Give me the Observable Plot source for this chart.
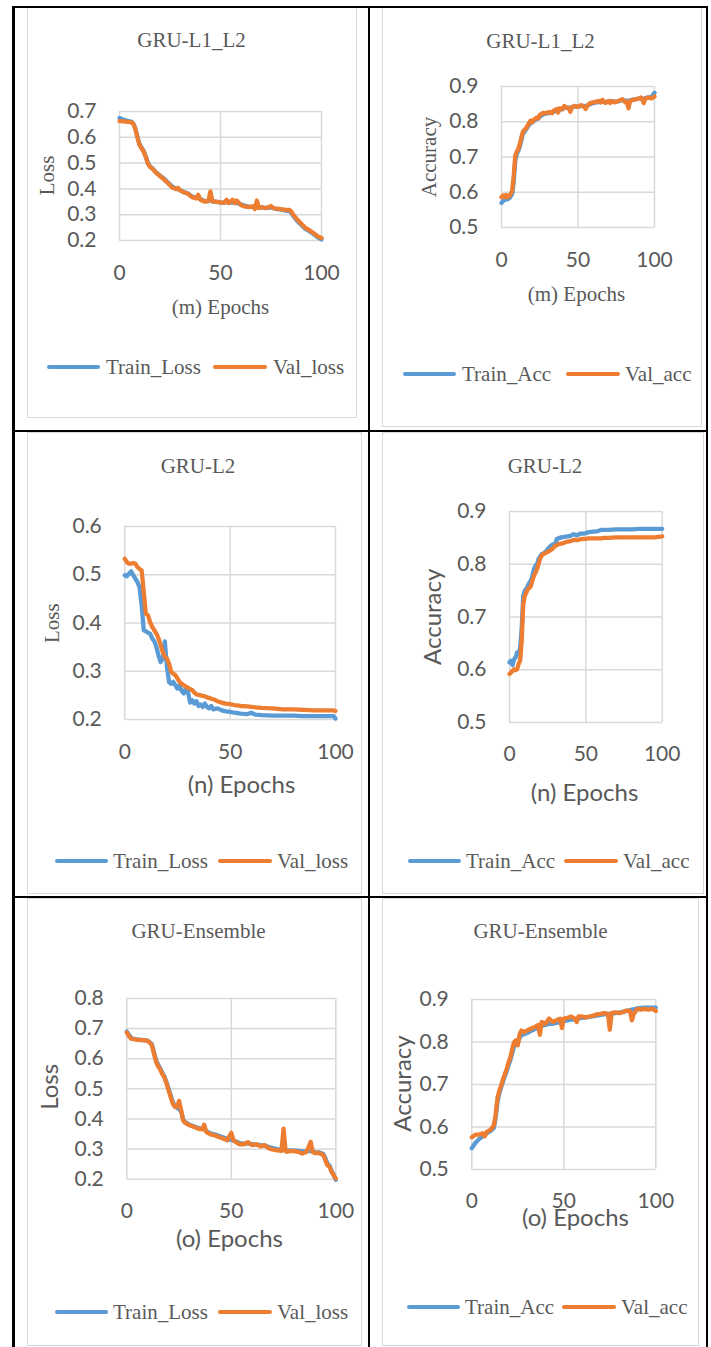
<!DOCTYPE html>
<html><head><meta charset="utf-8">
<script src="https://cdn.jsdelivr.net/npm/d3@7"></script>
<script src="https://cdn.jsdelivr.net/npm/@observablehq/plot@0.6"></script>
<style>
body{margin:0;background:#fff;}
#page{position:relative;width:711px;height:1347px;overflow:hidden;background:#fff;}
.bl{position:absolute;background:#000;}
.fr{position:absolute;border:1px solid #d9d9d9;box-sizing:border-box;}
.ttl{position:absolute;font-family:"Liberation Serif","Times New Roman",serif;color:#595959;font-size:21px;line-height:24px;white-space:nowrap;transform:translate(-50%,-50%);}
.lg{position:absolute;height:4px;border-radius:2px;}
.lt{position:absolute;font-family:"Liberation Serif","Times New Roman",serif;color:#595959;font-size:21px;line-height:24px;white-space:nowrap;transform:translateY(-50%);}
</style></head><body><div id="page"></div>
<script>
// ---------- DATA ----------
const xTicks = [0, 50, 100];
const lossTicksA = [0.2, 0.3, 0.4, 0.5, 0.6, 0.7];
const lossTicksB = [0.2, 0.3, 0.4, 0.5, 0.6];
const lossTicksC = [0.2, 0.3, 0.4, 0.5, 0.6, 0.7, 0.8];
const accTicks = [0.5, 0.6, 0.7, 0.8, 0.9];
const lossNames = ["Train_Loss", "Val_loss"];
const accNames = ["Train_Acc", "Val_acc"];

// (m) GRU-L1_L2 loss
const l1l2LossEpochs = [0,2,4,6,7,8,9,10,12,13,14,15,16,17,18,20,22,24,26,28,29,30,32,34,35,36,38,39,40,42,44,45,46,48,50,52,53,54,56,57,58,60,62,64,66,67,68,69,70,72,74,75,76,78,80,82,84,85,86,88,90,92,94,96,98,100];
const l1l2TrainLoss = [0.675,0.668,0.664,0.660,0.652,0.630,0.598,0.572,0.546,0.526,0.502,0.488,0.482,0.474,0.465,0.452,0.440,0.425,0.410,0.400,0.399,0.395,0.388,0.382,0.376,0.370,0.366,0.368,0.360,0.354,0.352,0.358,0.352,0.350,0.348,0.347,0.350,0.346,0.348,0.345,0.346,0.340,0.335,0.331,0.330,0.326,0.332,0.327,0.328,0.326,0.327,0.328,0.325,0.322,0.320,0.316,0.314,0.308,0.295,0.276,0.260,0.245,0.236,0.225,0.213,0.204];
const l1l2ValLoss = [0.663,0.662,0.660,0.658,0.650,0.627,0.595,0.569,0.544,0.524,0.499,0.486,0.480,0.473,0.463,0.450,0.437,0.422,0.406,0.399,0.404,0.394,0.386,0.381,0.373,0.368,0.363,0.377,0.358,0.351,0.354,0.390,0.351,0.351,0.347,0.347,0.358,0.345,0.358,0.345,0.355,0.338,0.332,0.329,0.332,0.322,0.355,0.326,0.329,0.326,0.329,0.334,0.326,0.323,0.322,0.319,0.319,0.313,0.300,0.281,0.265,0.249,0.240,0.229,0.217,0.210];

// (m) GRU-L1_L2 accuracy
const l1l2AccEpochs = [0,1,2,3,4,5,6,7,8,9,10,11,12,13,14,15,16,17,18,19,20,21,22,23,24,25,26,27,28,30,32,33,34,36,37,38,40,41,42,44,45,46,48,50,52,54,55,56,58,60,62,64,65,66,68,70,71,72,74,76,78,79,80,81,82,83,84,86,88,90,91,92,93,94,96,98,100];
const l1l2TrainAcc = [0.570,0.575,0.578,0.580,0.580,0.583,0.588,0.596,0.630,0.690,0.708,0.718,0.730,0.748,0.765,0.772,0.778,0.785,0.791,0.797,0.798,0.802,0.805,0.808,0.809,0.814,0.818,0.820,0.822,
  0.824,0.826,0.826,0.828,0.832,0.830,0.834,0.836,0.840,0.840,0.840,0.838,0.842,0.843,0.843,
  0.845,0.845,0.843,0.846,0.850,0.853,0.855,0.856,0.856,0.858,0.856,0.858,
  0.857,0.858,0.857,0.858,0.860,0.862,0.861,0.860,0.860,0.858,0.861,
  0.863,0.864,0.866,0.867,0.866,0.864,0.867,0.869,0.870,0.882];
const l1l2ValAcc = [0.586,0.591,0.586,0.592,0.586,0.589,0.595,0.605,0.647,0.704,0.715,0.723,0.737,0.756,0.772,0.777,0.781,0.789,0.796,0.803,0.798,0.806,0.808,0.812,0.809,0.819,0.822,0.825,0.824,
  0.826,0.828,0.824,0.831,0.836,0.826,0.838,0.836,0.845,0.841,0.838,0.828,0.841,0.845,0.842,
  0.847,0.842,0.836,0.845,0.853,0.855,0.857,0.859,0.855,0.862,0.853,0.859,
  0.853,0.859,0.855,0.858,0.862,0.864,0.859,0.855,0.857,0.838,0.859,
  0.862,0.864,0.866,0.869,0.862,0.853,0.866,0.869,0.866,0.872];

// (n) GRU-L2 loss
const l2LossEpochs = [0,1,2,3,4,5,6,7,8,9,10,11,12,13,14,15,16,17,18,19,20,21,22,23,24,25,26,27,28,29,30,31,32,33,34,35,36,37,38,39,40,41,42,44,46,48,50,52,55,58,60,62,65,70,75,80,85,90,95,99,100];
const l2TrainLoss = [0.499,0.497,0.502,0.507,0.499,0.492,0.485,0.474,0.437,0.385,0.383,0.380,0.378,0.368,0.362,0.350,0.333,0.319,0.326,0.362,0.309,0.278,0.274,0.278,0.271,0.264,0.271,0.259,0.254,0.264,0.257,0.235,0.240,0.233,0.238,0.228,0.231,0.226,0.233,0.226,0.223,0.228,0.221,0.223,0.219,0.217,0.216,0.214,0.212,0.211,0.214,0.210,0.209,0.208,0.208,0.208,0.207,0.207,0.207,0.207,0.202];
const l2ValLoss = [0.533,0.526,0.523,0.523,0.524,0.523,0.516,0.512,0.509,0.464,0.419,0.416,0.402,0.392,0.385,0.378,0.368,0.354,0.340,0.330,0.326,0.316,0.299,0.295,0.292,0.285,0.278,0.274,0.271,0.268,0.266,0.263,0.261,0.256,0.252,0.251,0.250,0.249,0.248,0.246,0.245,0.243,0.242,0.238,0.235,0.233,0.232,0.230,0.228,0.227,0.226,0.225,0.224,0.223,0.221,0.221,0.220,0.219,0.219,0.219,0.218];

// (n) GRU-L2 accuracy
const l2AccEpochs = [0,1,2,3,4,5,6,7,8,9,10,11,12,13,14,15,16,17,18,19,20,21,22,24,26,28,30,31,32,34,36,38,40,42,44,45,46,48,50,52,55,58,60,62,65,70,75,80,85,90,95,100];
const l2TrainAcc = [0.614,0.617,0.609,0.620,0.623,0.633,0.630,0.642,0.680,0.740,0.750,0.753,0.759,0.765,0.769,0.778,0.791,0.797,0.800,0.810,0.814,0.819,0.820,0.825,0.832,0.837,0.838,0.848,0.849,0.851,0.852,0.853,0.854,0.857,0.855,0.856,0.858,0.858,0.859,0.861,0.862,0.863,0.865,0.865,0.865,0.866,0.866,0.866,0.867,0.867,0.867,0.867];
const l2ValAcc = [0.592,0.595,0.598,0.601,0.599,0.601,0.611,0.618,0.655,0.724,0.740,0.746,0.753,0.755,0.759,0.769,0.778,0.784,0.791,0.800,0.810,0.816,0.819,0.822,0.825,0.829,0.835,0.836,0.838,0.839,0.841,0.843,0.844,0.846,0.846,0.846,0.847,0.848,0.848,0.849,0.849,0.849,0.849,0.850,0.850,0.851,0.851,0.851,0.851,0.851,0.851,0.853];

// (o) GRU-Ensemble loss
const ensLossEpochs = [0,1,2,4,6,8,10,11,12,13,14,15,16,17,18,19,20,21,22,23,24,25,26,27,28,29,30,32,34,36,37,38,40,42,44,46,48,50,51,52,54,56,58,60,62,64,66,68,70,72,74,75,76,77,78,80,82,84,86,88,89,90,92,94,95,96,97,98,100];
const ensTrainLoss = [0.690,0.680,0.670,0.665,0.663,0.662,0.660,
  0.655,0.648,0.622,0.595,0.580,0.568,0.553,0.541,0.522,0.500,0.478,0.456,0.443,0.437,0.432,0.425,0.398,0.390,0.385,0.381,
  0.376,0.371,0.367,0.368,0.360,0.352,0.349,0.344,0.339,0.334,0.330,
  0.329,0.326,0.320,0.318,0.319,0.316,0.315,0.313,0.312,0.307,0.303,
  0.300,0.298,0.298,0.297,0.296,0.296,0.295,0.294,0.292,0.292,0.294,
  0.292,0.290,0.289,0.284,0.270,0.252,0.245,0.228,0.198];
const ensValLoss = [0.687,0.675,0.667,0.664,0.662,0.662,0.659,
  0.653,0.645,0.617,0.590,0.575,0.564,0.549,0.538,0.518,0.495,0.473,0.451,0.440,0.440,0.460,0.429,0.394,0.387,0.383,0.379,
  0.374,0.368,0.365,0.381,0.357,0.349,0.346,0.340,0.335,0.329,0.354,
  0.330,0.324,0.316,0.316,0.323,0.313,0.316,0.309,0.313,0.302,0.298,
  0.296,0.294,0.368,0.292,0.291,0.294,0.293,0.291,0.285,0.291,0.324,
  0.290,0.287,0.287,0.280,0.263,0.246,0.241,0.224,0.202];

// (o) GRU-Ensemble accuracy
const ensAccEpochs = [0,2,4,6,7,8,10,11,12,13,14,15,16,17,18,19,20,21,22,23,24,25,26,27,28,30,32,34,36,37,38,40,42,44,46,48,49,50,52,54,56,57,58,60,62,64,66,68,70,72,74,75,76,78,80,82,84,86,87,88,90,92,94,96,98,100];
const ensTrainAcc = [0.550,0.563,0.572,0.578,0.580,0.585,0.590,
  0.594,0.598,0.622,0.660,0.680,0.694,0.708,0.720,0.732,0.746,0.758,0.775,0.790,0.795,0.798,0.810,0.816,0.818,
  0.821,0.826,0.830,0.833,0.835,0.838,0.840,
  0.843,0.843,0.845,0.847,0.848,0.849,
  0.851,0.853,0.853,0.854,0.855,0.857,
  0.858,0.859,0.861,0.862,0.864,0.865,0.866,
  0.866,0.867,0.868,0.869,0.871,0.873,0.875,
  0.876,0.877,0.879,0.880,0.881,0.881,0.881,0.881];
const ensValAcc = [0.576,0.582,0.582,0.585,0.578,0.588,0.593,
  0.598,0.604,0.631,0.670,0.686,0.698,0.713,0.725,0.737,0.753,0.764,0.784,0.800,0.804,0.792,0.819,0.827,0.823,
  0.827,0.831,0.835,0.840,0.817,0.847,0.843,
  0.855,0.847,0.851,0.855,0.833,0.855,
  0.857,0.860,0.855,0.847,0.860,0.860,
  0.858,0.860,0.862,0.865,0.866,0.868,0.866,
  0.829,0.868,0.870,0.868,0.870,0.874,0.873,
  0.851,0.866,0.878,0.876,0.878,0.876,0.878,0.873];

// ---------- LAYOUT / STYLE ----------
const BLUE = "#5B9BD5", ORANGE = "#ED7D31", GRID = "#d9d9d9", TXT = "#595959";
const SERIF = "Liberation Serif", SANS = "Lato";
const page = document.getElementById("page");
function el(cls, css, text) {
  const d = document.createElement("div");
  d.className = cls;
  for (const k in css) d.style[k] = typeof css[k] === "number" ? css[k] + "px" : css[k];
  if (text != null) d.textContent = text;
  page.appendChild(d);
  return d;
}

const panels = [
  {title: "GRU-L1_L2", t: [191.5, 40], frame: [27, 7, 357, 418], plot: [119, 111, 321, 240], yDomain: [0.2, 0.7], yTicks: lossTicksA, xPad: 24.5,
   xl: {text: "(m) Epochs", x: 220, y: 307, font: SERIF, size: 21}, yl: {text: "Loss", x: 46.7, y: 175, font: SERIF, size: 21},
   epochs: l1l2LossEpochs, train: l1l2TrainLoss, val: l1l2ValLoss, names: lossNames, lg: {y: 367, l1: 47, t1: 106, l2: 213, t2: 273}},
  {title: "GRU-L1_L2", t: [540.5, 40.7], frame: [382, 7, 702, 427], plot: [501, 85.5, 654, 226.5], yDomain: [0.5, 0.9], yTicks: accTicks, xPad: 24.5,
   xl: {text: "(m) Epochs", x: 576, y: 293.3, font: SERIF, size: 21}, yl: {text: "Accuracy", x: 429, y: 156, font: SERIF, size: 21},
   epochs: l1l2AccEpochs, train: l1l2TrainAcc, val: l1l2ValAcc, names: accNames, lg: {y: 374, l1: 403, t1: 462, l2: 566, t2: 625}},
  {title: "GRU-L2", t: [198, 466], frame: [27, 432, 362, 894], plot: [124.3, 526, 335, 719], yDomain: [0.2, 0.6], yTicks: lossTicksB, xPad: 25,
   xl: {text: "(n) Epochs", x: 241, y: 785, font: SANS, size: 24}, yl: {text: "Loss", x: 51.7, y: 622.7, font: SERIF, size: 21},
   epochs: l2LossEpochs, train: l2TrainLoss, val: l2ValLoss, names: lossNames, lg: {y: 861, l1: 55, t1: 113, l2: 218, t2: 277}},
  {title: "GRU-L2", t: [545, 466], frame: [382, 432, 704, 894], plot: [509, 510.7, 661.7, 721.7], yDomain: [0.5, 0.9], yTicks: accTicks, xPad: 23.5,
   xl: {text: "(n) Epochs", x: 584, y: 792.7, font: SANS, size: 24}, yl: {text: "Accuracy", x: 433, y: 616, font: SANS, size: 24},
   epochs: l2AccEpochs, train: l2TrainAcc, val: l2ValAcc, names: accNames, lg: {y: 861, l1: 408, t1: 466, l2: 564, t2: 623}},
  {title: "GRU-Ensemble", t: [198.5, 931], frame: [27, 898, 362, 1346], plot: [126.3, 998.3, 335.3, 1179], yDomain: [0.2, 0.8], yTicks: lossTicksC, xPad: 23.5,
   xl: {text: "(o) Epochs", x: 229, y: 1239, font: SANS, size: 24}, yl: {text: "Loss", x: 50, y: 1086.7, font: SANS, size: 24},
   epochs: ensLossEpochs, train: ensTrainLoss, val: ensValLoss, names: lossNames, lg: {y: 1312, l1: 55, t1: 113, l2: 218, t2: 277}},
  {title: "GRU-Ensemble", t: [540.5, 931], frame: [382, 898, 699, 1346], plot: [471.3, 999, 655.3, 1169], yDomain: [0.5, 0.9], yTicks: accTicks, xPad: 23.5,
   xl: {text: "(o) Epochs", x: 575, y: 1218.3, font: SANS, size: 24}, yl: {text: "Accuracy", x: 402.7, y: 1083, font: SANS, size: 24},
   epochs: ensAccEpochs, train: ensTrainAcc, val: ensValAcc, names: accNames, lg: {y: 1307, l1: 407, t1: 465, l2: 562, t2: 621}}
];

// chart frames (light gray)
for (const p of panels) {
  const [l, t, r, b] = p.frame;
  el("fr", {left: l, top: t, width: r - l, height: b - t});
}
// table lines (black)
el("bl", {left: 12, top: 6, width: 2.5, height: 1341});
el("bl", {left: 367.5, top: 6, width: 2.5, height: 1341});
el("bl", {left: 705.5, top: 6, width: 2.5, height: 1341});
el("bl", {left: 12, top: 5.5, width: 696, height: 2});
el("bl", {left: 12, top: 430, width: 696, height: 2});
el("bl", {left: 12, top: 896, width: 696, height: 2});

for (const p of panels) {
  const [fl, ft, fr, fb] = p.frame;
  const [pl, pt, pr, pb] = p.plot;
  const svgTop = pt - 30;
  const width = fr - fl;
  const height = Math.ceil(p.xl.y + 22 - svgTop);
  const marginLeft = pl - fl, marginRight = fr - pr, marginTop = 30, marginBottom = svgTop + height - pb;
  const cx = (pl + pr) / 2, cy = (pt + pb) / 2;
  const svg = Plot.plot({
    width, height, marginLeft, marginRight, marginTop, marginBottom,
    style: {fontFamily: SANS, fontSize: "21px", color: TXT, background: "none", overflow: "visible"},
    x: {domain: [0, 100], ticks: xTicks, tickSize: 0, tickPadding: p.xPad, label: null},
    y: {domain: p.yDomain, ticks: p.yTicks, tickSize: 0, tickPadding: 23, label: null, tickFormat: d3.format(".1f")},
    marks: [
      Plot.gridY(p.yTicks, {stroke: GRID, strokeOpacity: 1, strokeWidth: 1.5}),
      Plot.gridX(xTicks, {stroke: GRID, strokeOpacity: 1, strokeWidth: 1.5}),
      Plot.lineY(p.train, {x: p.epochs, stroke: BLUE, strokeWidth: 4.3, strokeLinejoin: "round", strokeLinecap: "round"}),
      Plot.lineY(p.val, {x: p.epochs, stroke: ORANGE, strokeWidth: 4.3, strokeLinejoin: "round", strokeLinecap: "round"}),
      Plot.text([p.xl.text], {text: d => d, frameAnchor: "bottom", textAnchor: "middle", lineAnchor: "middle", dx: p.xl.x - cx, dy: p.xl.y - pb, fontFamily: p.xl.font, fontSize: p.xl.size, fill: TXT}),
      Plot.text([p.yl.text], {text: d => d, frameAnchor: "left", textAnchor: "middle", lineAnchor: "middle", dx: p.yl.x - pl, dy: p.yl.y - cy, rotate: -90, fontFamily: p.yl.font, fontSize: p.yl.size, fill: TXT})
    ]
  });
  svg.style.position = "absolute";
  svg.style.left = fl + "px";
  svg.style.top = svgTop + "px";
  page.appendChild(svg);

  // title
  el("ttl", {left: p.t[0], top: p.t[1]}, p.title);
  // legend
  el("lg", {left: p.lg.l1, top: p.lg.y - 2, width: 53, background: BLUE});
  el("lt", {left: p.lg.t1, top: p.lg.y}, p.names[0]);
  el("lg", {left: p.lg.l2, top: p.lg.y - 2, width: 54, background: ORANGE});
  el("lt", {left: p.lg.t2, top: p.lg.y}, p.names[1]);
}
</script></body></html>
